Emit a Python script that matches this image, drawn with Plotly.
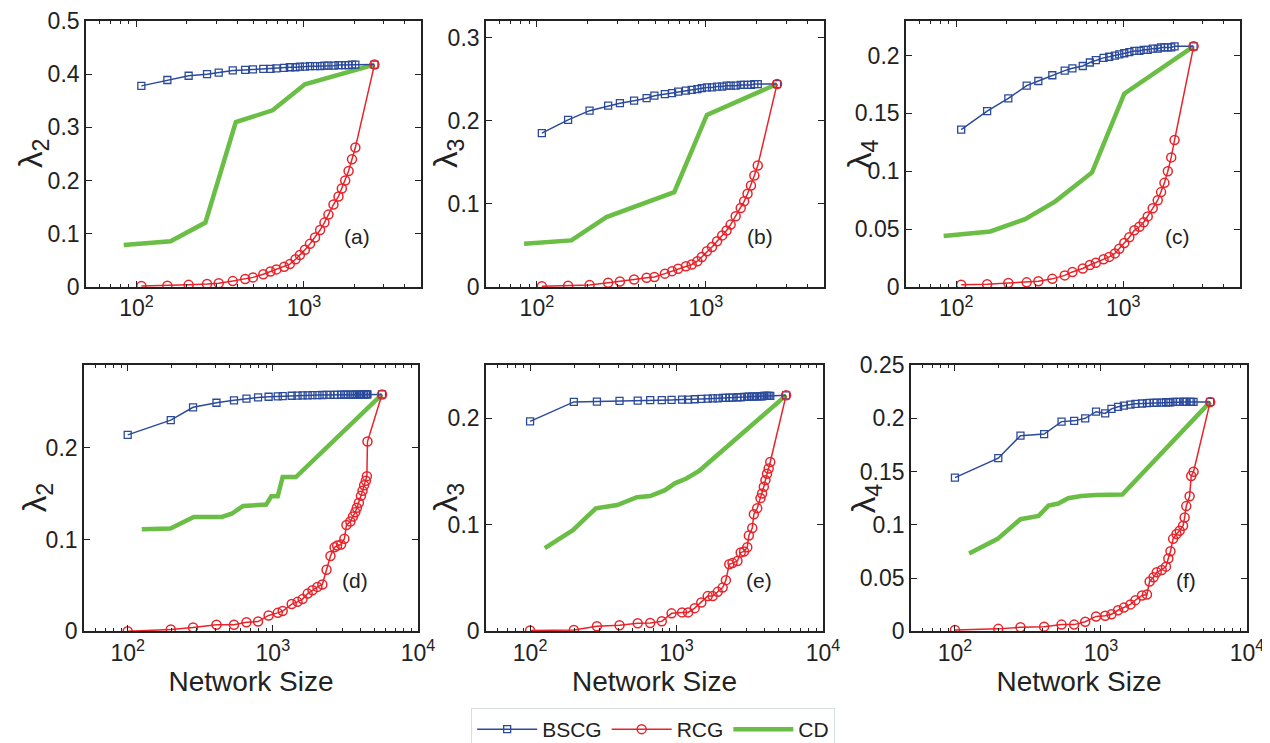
import plotly.graph_objects as go

BLUE = "#2B4A9C"
RED = "#E8232A"
GREEN = "#6ABD45"
INK = "#222222"
FONT = "Liberation Sans, Arial, Helvetica, sans-serif"

# ---------------- top row (a)-(c) ----------------
size_top = [107, 153, 205, 264, 310, 376, 446, 496, 572, 631, 685, 762, 824, 891, 946,
            1014, 1087, 1165, 1249, 1326, 1401, 1501, 1608, 1684, 1764, 1848, 1936, 2028, 2637]
cd_size_top = [84, 160, 258, 392, 650, 1014, 2637]

a_bscg = [0.378, 0.389, 0.397, 0.400, 0.403, 0.407, 0.408, 0.409, 0.410, 0.410, 0.411, 0.412,
          0.413, 0.413, 0.414, 0.414, 0.415, 0.415, 0.415, 0.416, 0.416, 0.416, 0.417, 0.417,
          0.417, 0.417, 0.418, 0.418, 0.418]
a_rcg = [0.002, 0.0025, 0.004, 0.0055, 0.007, 0.011, 0.015, 0.018, 0.024, 0.029, 0.033, 0.038,
         0.043, 0.052, 0.060, 0.070, 0.081, 0.093, 0.107, 0.121, 0.136, 0.155, 0.170, 0.185,
         0.200, 0.218, 0.240, 0.262, 0.418]
a_cd = [0.079, 0.086, 0.121, 0.310, 0.332, 0.381, 0.418]

b_bscg = [0.185, 0.201, 0.212, 0.218, 0.221, 0.224, 0.227, 0.230, 0.232, 0.233, 0.235, 0.236,
          0.237, 0.238, 0.239, 0.240, 0.240, 0.241, 0.241, 0.242, 0.242, 0.242, 0.243, 0.243,
          0.243, 0.243, 0.244, 0.244, 0.244]
b_rcg = [0.001, 0.0015, 0.0025, 0.005, 0.0065, 0.009, 0.011, 0.012, 0.016, 0.019, 0.022, 0.025,
         0.027, 0.031, 0.036, 0.043, 0.048, 0.055, 0.062, 0.068, 0.075, 0.085, 0.095, 0.103,
         0.112, 0.122, 0.134, 0.146, 0.244]
b_cd = [0.052, 0.056, 0.084, 0.098, 0.114, 0.207, 0.244]

c_bscg = [0.136, 0.152, 0.163, 0.174, 0.178, 0.183, 0.187, 0.189, 0.191, 0.194, 0.196, 0.198,
          0.199, 0.200, 0.201, 0.202, 0.203, 0.204, 0.204, 0.205, 0.205, 0.206, 0.206, 0.207,
          0.207, 0.207, 0.207, 0.208, 0.208]
c_rcg = [0.002, 0.0023, 0.0034, 0.004, 0.005, 0.007, 0.010, 0.013, 0.016, 0.019, 0.021, 0.024,
         0.026, 0.029, 0.033, 0.038, 0.043, 0.049, 0.052, 0.056, 0.061, 0.068, 0.075, 0.082,
         0.090, 0.100, 0.112, 0.127, 0.208]
c_cd = [0.044, 0.048, 0.0586, 0.074, 0.099, 0.167, 0.208]

# ---------------- bottom row (d)-(f) ----------------
size_d = [100, 198, 282, 409, 540, 658, 791, 935, 1081, 1169, 1349, 1479, 1603, 1738, 1875, 2028,
          2193, 2344, 2495, 2661, 2773, 2951, 3112, 3214, 3420, 3565, 3698, 3793, 3917, 4046,
          4150, 4256, 4375, 4446, 4487, 5650]
d_bscg = [0.214, 0.230, 0.244, 0.249, 0.2516, 0.2535, 0.2548, 0.2555, 0.2560, 0.2563, 0.2566,
          0.2568, 0.2570, 0.2570, 0.2572, 0.2573, 0.2574, 0.2575, 0.2575, 0.2576, 0.2576, 0.2577,
          0.2577, 0.2577, 0.2578, 0.2578, 0.2578, 0.2578, 0.2579, 0.2579, 0.2579, 0.2579, 0.2580,
          0.2580, 0.2580, 0.2580]
d_rcg = [0.0, 0.002, 0.004, 0.007, 0.007, 0.0098, 0.0105, 0.0172, 0.020, 0.022, 0.0296, 0.032,
         0.035, 0.041, 0.0446, 0.0483, 0.051, 0.067, 0.082, 0.0914, 0.0933, 0.0944, 0.1008,
         0.1157, 0.1195, 0.125, 0.1296, 0.1345, 0.140, 0.1475, 0.153, 0.159, 0.164, 0.169,
         0.2067, 0.258]
cd_size_d = [125, 197, 285, 445, 520, 624, 900, 975, 1081, 1169, 1442, 5650]
d_cd = [0.111, 0.112, 0.1245, 0.1245, 0.128, 0.1364, 0.138, 0.147, 0.147, 0.168, 0.168, 0.258]

size_e = [100, 199, 286, 408, 543, 661, 793, 925, 1091, 1199, 1330, 1476, 1633, 1766, 1910, 2065,
          2173, 2291, 2410, 2606, 2742, 2891, 3041, 3119, 3289, 3373, 3556, 3741, 3837, 3945,
          4046, 4150, 4256, 4365, 5598]
e_bscg = [0.1972, 0.2155, 0.2158, 0.2165, 0.2168, 0.2171, 0.2171, 0.2174, 0.2177, 0.2177, 0.2180,
          0.2183, 0.2186, 0.2189, 0.2189, 0.2193, 0.2193, 0.2196, 0.2196, 0.2199, 0.2199, 0.2202,
          0.2202, 0.2205, 0.2205, 0.2205, 0.2208, 0.2208, 0.2208, 0.2211, 0.2211, 0.2211, 0.2211,
          0.2211, 0.2217]
e_rcg = [0.0006, 0.0012, 0.0047, 0.0056, 0.0075, 0.0078, 0.0093, 0.0168, 0.0177, 0.0177, 0.0217,
         0.027, 0.033, 0.033, 0.037, 0.041, 0.048, 0.063, 0.064, 0.066, 0.074, 0.075, 0.079,
         0.090, 0.097, 0.110, 0.1155, 0.125, 0.1295, 0.1357, 0.142, 0.148, 0.153, 0.159, 0.2217]
cd_size_e = [126, 196, 281, 394, 537, 661, 834, 975, 1167, 1436, 5598]
e_cd = [0.078, 0.095, 0.1155, 0.1186, 0.126, 0.127, 0.1326, 0.139, 0.1435, 0.151, 0.2217]

size_f = [100, 198, 281, 408, 537, 655, 780, 925, 1069, 1180, 1309, 1436, 1592, 1722, 1910, 2065,
          2153, 2291, 2410, 2606, 2786, 2891, 2992, 3119, 3289, 3459, 3648, 3741, 3837, 4046,
          4150, 4305, 5598]
f_bscg = [0.1444, 0.1626, 0.1838, 0.1853, 0.1970, 0.1977, 0.2001, 0.2063, 0.2047, 0.2090, 0.2109,
          0.2121, 0.2130, 0.2137, 0.2140, 0.2143, 0.2146, 0.2146, 0.2149, 0.2149, 0.2152, 0.2152,
          0.2152, 0.2155, 0.2155, 0.2155, 0.2155, 0.2155, 0.2155, 0.2155, 0.2155, 0.2155, 0.2155]
f_rcg = [0.0012, 0.0022, 0.0037, 0.0043, 0.0062, 0.0062, 0.0089, 0.0139, 0.0145, 0.016, 0.0197,
         0.0222, 0.0252, 0.0292, 0.0336, 0.0345, 0.0468, 0.0508, 0.0554, 0.0576, 0.0607, 0.0683,
         0.0751, 0.0868, 0.0914, 0.0945, 0.0991, 0.1068, 0.1176, 0.1268, 0.1459, 0.1499, 0.2155]
cd_size_f = [125, 196, 281, 374, 437, 510, 596, 733, 925, 1400, 5598]
f_cd = [0.073, 0.0868, 0.1053, 0.1084, 0.118, 0.120, 0.125, 0.127, 0.128, 0.1284, 0.2155]

panel_labels = ["(a)", "(b)", "(c)", "(d)", "(e)", "(f)"]
y_titles = ["λ<sub>2</sub>", "λ<sub>3</sub>", "λ<sub>4</sub>", "λ<sub>2</sub>", "λ<sub>3</sub>", "λ<sub>4</sub>"]
y_max = [0.5002, 0.32, 0.23, 0.29, 0.2501, 0.2501]
y_dtick = [0.1, 0.1, 0.05, 0.1, 0.1, 0.05]
x_label = "Network Size"
series_names = ["BSCG", "RCG", "CD"]

panels = [
    (size_top, a_bscg, a_rcg, cd_size_top, a_cd),
    (size_top, b_bscg, b_rcg, cd_size_top, b_cd),
    (size_top, c_bscg, c_rcg, cd_size_top, c_cd),
    (size_d, d_bscg, d_rcg, cd_size_d, d_cd),
    (size_e, e_bscg, e_rcg, cd_size_e, e_cd),
    (size_f, f_bscg, f_rcg, cd_size_f, f_cd),
]

W, H = 1270, 743
# pixel boxes (left, right, top, bottom)
boxes = [(78, 413, 13, 282), (478, 816, 13, 282), (898, 1232, 13, 282),
         (76, 410, 361, 630), (478, 815, 361, 630), (903, 1239, 361, 630)]
ytitle_px = [25, 440, 854, 29, 440, 858]

fig = go.Figure()
minor_vals = [m * 10 ** k for k in (1, 2, 3) for m in range(2, 10)]

for i, (xs, bscg, rcg, cdx, cdy) in enumerate(panels):
    n = "" if i == 0 else str(i + 1)
    xa, ya = "x" + n, "y" + n
    show = (i == 0)
    fig.add_trace(go.Scatter(x=cdx, y=cdy, mode="lines", name=series_names[2],
                             line=dict(color=GREEN, width=4.5), xaxis=xa, yaxis=ya,
                             showlegend=show, legendrank=3))
    fig.add_trace(go.Scatter(x=xs, y=bscg, mode="lines+markers", name=series_names[0],
                             line=dict(color=BLUE, width=1.5),
                             marker=dict(symbol="square-open", size=7, color=BLUE, line=dict(width=1.3)),
                             xaxis=xa, yaxis=ya, showlegend=show, legendrank=1))
    fig.add_trace(go.Scatter(x=xs, y=rcg, mode="lines+markers", name=series_names[1],
                             line=dict(color=RED, width=1.5),
                             marker=dict(symbol="circle-open", size=9, color=RED, line=dict(width=1.5)),
                             xaxis=xa, yaxis=ya, showlegend=show, legendrank=2))

    l, r, t, b = boxes[i]
    top_row = i < 3
    xrange = [1.69897, 3.69897] if top_row else [1.69897, 4.0001]
    tv = [100, 1000] if top_row else [100, 1000, 10000]
    tt = ["10<sup>2</sup>", "10<sup>3</sup>"] if top_row else ["10<sup>2</sup>", "10<sup>3</sup>", "10<sup>4</sup>"]
    xaxis = dict(type="log", domain=[l / W, r / W], range=xrange, anchor=ya,
                 tickmode="array", tickvals=tv, ticktext=tt,
                 ticks="inside", ticklen=6, tickwidth=1.2, tickcolor=INK,
                 showline=True, linecolor=INK, linewidth=1.6, mirror="ticks",
                 showgrid=False, zeroline=False, automargin=False,
                 tickfont=dict(size=23, color=INK, family=FONT),
                 minor=dict(ticks="inside", ticklen=3, tickwidth=1, tickcolor=INK,
                            tickmode="array", tickvals=minor_vals, showgrid=False))
    if not top_row:
        xaxis["title"] = dict(text=x_label, font=dict(size=28, color=INK, family=FONT), standoff=4)
    yaxis = dict(domain=[1 - b / H, 1 - t / H], range=[0, y_max[i]], anchor=xa,
                 dtick=y_dtick[i], tick0=0,
                 ticks="inside", ticklen=6, tickwidth=1.2, tickcolor=INK,
                 showline=True, linecolor=INK, linewidth=1.6, mirror="ticks",
                 showgrid=False, zeroline=False, automargin=False,
                 tickfont=dict(size=23, color=INK, family=FONT))
    fig.layout["xaxis" + n] = xaxis
    fig.layout["yaxis" + n] = yaxis

    fig.add_annotation(text=panel_labels[i], xref=xa + " domain", yref=ya + " domain",
                       x=0.855, y=0.14, showarrow=False,
                       font=dict(size=21, color=INK, family=FONT))
    fig.add_annotation(text=y_titles[i], xref="paper", yref="paper",
                       x=ytitle_px[i] / W, y=1 - (t + b) / 2 / H, textangle=-90,
                       xanchor="center", yanchor="middle",
                       showarrow=False, font=dict(size=33, color=INK, family=FONT))

fig.update_layout(
    width=W, height=H, margin=dict(l=0, r=0, t=0, b=0),
    paper_bgcolor="white", plot_bgcolor="white",
    font=dict(family=FONT, color=INK),
    legend=dict(orientation="h", x=0.508, xanchor="center", y=1 - 708 / H, yanchor="top",
                bordercolor="#D8DEDE", borderwidth=1, bgcolor="white",
                font=dict(size=21, color=INK, family=FONT), itemwidth=60,
                traceorder="normal"),
    showlegend=True,
)

fig.write_html("out.html")
